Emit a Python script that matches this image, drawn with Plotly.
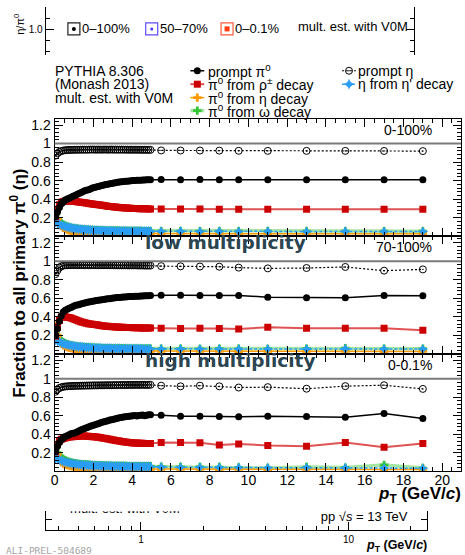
import plotly.graph_objects as go

W, H = 465, 555
SANS = "Liberation Sans, Arial, Helvetica, sans-serif"

# ---------------------------------------------------------------- data
pt_fine = [0.05, 0.15, 0.25, 0.35, 0.45, 0.55, 0.65, 0.75, 0.85, 0.95,
           1.05, 1.15, 1.25, 1.35, 1.45, 1.55, 1.65, 1.75, 1.85, 1.95,
           2.05, 2.15, 2.25, 2.35, 2.45, 2.55, 2.65, 2.75, 2.85, 2.95,
           3.05, 3.15, 3.25, 3.35, 3.45, 3.55, 3.65, 3.75, 3.85, 3.95,
           4.05, 4.15, 4.25, 4.35, 4.45, 4.55, 4.65, 4.75, 4.85, 4.95]
pt_coarse = [5.5, 6.5, 7.5, 8.5, 9.5, 11.0, 13.0, 15.0, 17.0, 19.0]

# ---- 0-100 %
mb_pi0_fine = [0.21, 0.26, 0.31, 0.35, 0.37, 0.39, 0.40, 0.41, 0.42, 0.43,
               0.44, 0.45, 0.46, 0.47, 0.48, 0.49, 0.495, 0.50, 0.51, 0.52,
               0.525, 0.53, 0.537, 0.543, 0.548, 0.553, 0.558, 0.562, 0.566, 0.57,
               0.574, 0.578, 0.581, 0.584, 0.587, 0.59, 0.592, 0.594, 0.596, 0.598,
               0.60, 0.601, 0.603, 0.604, 0.605, 0.606, 0.607, 0.608, 0.609, 0.61]
mb_pi0_coarse = [0.611, 0.610, 0.611, 0.609, 0.610, 0.609, 0.610, 0.608, 0.610, 0.609]
mb_rho_fine = [0.21, 0.29, 0.34, 0.365, 0.375, 0.38, 0.38, 0.38, 0.378, 0.376,
               0.374, 0.372, 0.369, 0.366, 0.363, 0.36, 0.357, 0.354, 0.351, 0.348,
               0.345, 0.342, 0.339, 0.336, 0.333, 0.33, 0.327, 0.324, 0.321, 0.319,
               0.316, 0.314, 0.312, 0.31, 0.308, 0.306, 0.305, 0.303, 0.302, 0.301,
               0.30, 0.299, 0.298, 0.297, 0.296, 0.296, 0.295, 0.295, 0.294, 0.294]
mb_rho_coarse = [0.293, 0.292, 0.292, 0.291, 0.291, 0.291, 0.291, 0.290, 0.291, 0.291]
mb_etadec_fine = [0.28, 0.19, 0.14, 0.108, 0.09, 0.079, 0.07, 0.064, 0.059, 0.055,
                  0.052, 0.049, 0.047, 0.045, 0.043, 0.041, 0.04, 0.038, 0.037, 0.036,
                  0.035, 0.034, 0.034, 0.033, 0.032, 0.032, 0.031, 0.031, 0.030, 0.030,
                  0.030, 0.029, 0.029, 0.029, 0.028, 0.028, 0.028, 0.028, 0.027, 0.027,
                  0.027, 0.027, 0.027, 0.026, 0.026, 0.026, 0.026, 0.026, 0.026, 0.026]
mb_etadec_coarse = [0.025, 0.025, 0.025, 0.025, 0.025, 0.024, 0.025, 0.025, 0.024, 0.025]
mb_omega_fine = [0.23, 0.19, 0.16, 0.14, 0.125, 0.113, 0.104, 0.097, 0.091, 0.087,
                 0.083, 0.080, 0.077, 0.075, 0.073, 0.071, 0.070, 0.068, 0.067, 0.066,
                 0.065, 0.064, 0.063, 0.062, 0.062, 0.061, 0.060, 0.060, 0.059, 0.059,
                 0.058, 0.058, 0.058, 0.057, 0.057, 0.057, 0.056, 0.056, 0.056, 0.056,
                 0.055, 0.055, 0.055, 0.055, 0.055, 0.054, 0.054, 0.054, 0.054, 0.054]
mb_omega_coarse = [0.054, 0.054, 0.053, 0.054, 0.053, 0.054, 0.053, 0.054, 0.053, 0.054]
mb_etap_fine = [0.15, 0.14, 0.13, 0.12, 0.112, 0.105, 0.099, 0.094, 0.089, 0.085,
                0.082, 0.079, 0.076, 0.074, 0.072, 0.070, 0.068, 0.067, 0.065, 0.064,
                0.063, 0.062, 0.061, 0.060, 0.059, 0.059, 0.058, 0.057, 0.057, 0.056,
                0.056, 0.055, 0.055, 0.055, 0.054, 0.054, 0.054, 0.053, 0.053, 0.053,
                0.053, 0.052, 0.052, 0.052, 0.052, 0.052, 0.051, 0.051, 0.051, 0.051]
mb_etap_coarse = [0.051, 0.051, 0.050, 0.051, 0.050, 0.051, 0.050, 0.051, 0.050, 0.050]
mb_eta_fine = [0.87, 0.895, 0.91, 0.92, 0.925, 0.928, 0.930, 0.931, 0.932, 0.932,
               0.933, 0.933, 0.933, 0.934, 0.934, 0.934, 0.934, 0.934, 0.935, 0.935,
               0.935, 0.934, 0.935, 0.935, 0.934, 0.935, 0.935, 0.934, 0.935, 0.935,
               0.934, 0.935, 0.934, 0.934, 0.935, 0.934, 0.934, 0.934, 0.933, 0.934,
               0.933, 0.934, 0.933, 0.933, 0.933, 0.932, 0.933, 0.932, 0.932, 0.932]
mb_eta_coarse = [0.926, 0.925, 0.925, 0.924, 0.922, 0.921, 0.921, 0.921, 0.920, 0.919]

# ---- 70-100 %  (low multiplicity)
low_pi0_fine = [0.20, 0.27, 0.35, 0.41, 0.45, 0.47, 0.48, 0.49, 0.50, 0.51,
                0.52, 0.525, 0.53, 0.537, 0.543, 0.548, 0.553, 0.558, 0.562, 0.566,
                0.57, 0.574, 0.578, 0.581, 0.584, 0.587, 0.59, 0.593, 0.595, 0.598,
                0.602, 0.604, 0.606, 0.608, 0.61, 0.612, 0.614, 0.615, 0.617, 0.618,
                0.619, 0.62, 0.621, 0.622, 0.623, 0.624, 0.625, 0.626, 0.627, 0.628]
low_pi0_coarse = [0.632, 0.632, 0.630, 0.628, 0.629, 0.611, 0.604, 0.604, 0.629, 0.625]
low_rho_fine = [0.19, 0.29, 0.36, 0.395, 0.405, 0.40, 0.395, 0.39, 0.385, 0.378,
                0.37, 0.362, 0.354, 0.346, 0.34, 0.334, 0.329, 0.325, 0.321, 0.318,
                0.315, 0.312, 0.309, 0.306, 0.303, 0.30, 0.298, 0.296, 0.294, 0.292,
                0.291, 0.29, 0.289, 0.287, 0.286, 0.285, 0.284, 0.283, 0.283, 0.282,
                0.281, 0.281, 0.28, 0.28, 0.279, 0.279, 0.278, 0.278, 0.277, 0.277]
low_rho_coarse = [0.275, 0.272, 0.275, 0.272, 0.268, 0.286, 0.276, 0.276, 0.276, 0.254]
low_etadec_fine = [0.30, 0.20, 0.145, 0.11, 0.092, 0.08, 0.071, 0.065, 0.06, 0.056,
                   0.053, 0.05, 0.048, 0.046, 0.044, 0.042, 0.041, 0.039, 0.038, 0.037,
                   0.036, 0.035, 0.035, 0.034, 0.033, 0.033, 0.032, 0.032, 0.031, 0.031,
                   0.031, 0.030, 0.030, 0.030, 0.029, 0.029, 0.029, 0.029, 0.028, 0.028,
                   0.028, 0.028, 0.028, 0.027, 0.027, 0.027, 0.027, 0.027, 0.027, 0.027]
low_etadec_coarse = [0.026, 0.025, 0.026, 0.025, 0.024, 0.025, 0.026, 0.025, 0.024, 0.025]
low_omega_fine = [0.22, 0.185, 0.158, 0.138, 0.124, 0.112, 0.103, 0.096, 0.090, 0.086,
                  0.082, 0.079, 0.076, 0.074, 0.072, 0.070, 0.069, 0.067, 0.066, 0.065,
                  0.064, 0.063, 0.062, 0.062, 0.061, 0.060, 0.060, 0.059, 0.059, 0.058,
                  0.058, 0.057, 0.057, 0.057, 0.056, 0.056, 0.056, 0.055, 0.055, 0.055,
                  0.055, 0.055, 0.054, 0.054, 0.054, 0.054, 0.054, 0.053, 0.053, 0.053]
low_omega_coarse = [0.053, 0.054, 0.052, 0.055, 0.053, 0.052, 0.054, 0.060, 0.053, 0.055]
low_etap_fine = [0.15, 0.138, 0.127, 0.118, 0.11, 0.103, 0.097, 0.092, 0.088, 0.084,
                 0.081, 0.078, 0.075, 0.073, 0.071, 0.069, 0.068, 0.066, 0.065, 0.064,
                 0.063, 0.062, 0.061, 0.060, 0.059, 0.058, 0.058, 0.057, 0.057, 0.056,
                 0.056, 0.055, 0.055, 0.055, 0.054, 0.054, 0.054, 0.053, 0.053, 0.053,
                 0.053, 0.052, 0.052, 0.052, 0.052, 0.051, 0.051, 0.051, 0.051, 0.051]
low_etap_coarse = [0.051, 0.050, 0.051, 0.050, 0.050, 0.051, 0.050, 0.052, 0.050, 0.051]
low_eta_fine = [0.86, 0.90, 0.93, 0.945, 0.952, 0.955, 0.956, 0.957, 0.957, 0.958,
                0.958, 0.958, 0.957, 0.958, 0.958, 0.957, 0.958, 0.957, 0.957, 0.958,
                0.957, 0.957, 0.956, 0.957, 0.957, 0.956, 0.957, 0.956, 0.956, 0.957,
                0.956, 0.956, 0.955, 0.956, 0.955, 0.955, 0.956, 0.955, 0.954, 0.955,
                0.954, 0.955, 0.954, 0.953, 0.954, 0.953, 0.953, 0.952, 0.953, 0.952]
low_eta_coarse = [0.946, 0.944, 0.942, 0.940, 0.930, 0.922, 0.926, 0.937, 0.897, 0.911]

# ---- 0-0.1 %  (high multiplicity)
high_pi0_fine = [0.21, 0.27, 0.31, 0.34, 0.36, 0.375, 0.385, 0.395, 0.405, 0.41,
                 0.415, 0.425, 0.435, 0.445, 0.455, 0.462, 0.47, 0.478, 0.486, 0.494,
                 0.50, 0.508, 0.515, 0.522, 0.529, 0.535, 0.541, 0.547, 0.553, 0.558,
                 0.563, 0.568, 0.573, 0.578, 0.582, 0.586, 0.59, 0.593, 0.596, 0.598,
                 0.60, 0.602, 0.598, 0.603, 0.605, 0.607, 0.60, 0.606, 0.61, 0.612]
high_pi0_coarse = [0.605, 0.595, 0.594, 0.592, 0.588, 0.595, 0.591, 0.584, 0.624, 0.57]
high_pi0_err = [0.004, 0.004, 0.005, 0.005, 0.006, 0.007, 0.009, 0.011, 0.016, 0.022]
high_rho_fine = [0.21, 0.29, 0.33, 0.345, 0.355, 0.36, 0.365, 0.37, 0.372, 0.374,
                 0.376, 0.378, 0.379, 0.38, 0.38, 0.38, 0.379, 0.378, 0.376, 0.374,
                 0.372, 0.37, 0.367, 0.364, 0.361, 0.358, 0.354, 0.35, 0.346, 0.342,
                 0.338, 0.334, 0.33, 0.326, 0.322, 0.319, 0.316, 0.313, 0.311, 0.309,
                 0.307, 0.306, 0.305, 0.304, 0.303, 0.302, 0.301, 0.30, 0.30, 0.299]
high_rho_coarse = [0.31, 0.31, 0.308, 0.283, 0.295, 0.28, 0.27, 0.31, 0.26, 0.30]
high_rho_err = [0.003, 0.003, 0.004, 0.004, 0.005, 0.006, 0.007, 0.009, 0.012, 0.016]
high_etadec_fine = [0.27, 0.18, 0.13, 0.10, 0.085, 0.075, 0.068, 0.062, 0.057, 0.053,
                    0.05, 0.047, 0.045, 0.043, 0.041, 0.039, 0.038, 0.036, 0.035, 0.034,
                    0.033, 0.032, 0.031, 0.03, 0.03, 0.029, 0.028, 0.028, 0.027, 0.027,
                    0.026, 0.026, 0.025, 0.025, 0.025, 0.024, 0.024, 0.024, 0.023, 0.023,
                    0.023, 0.023, 0.022, 0.022, 0.022, 0.022, 0.021, 0.021, 0.021, 0.021]
high_etadec_coarse = [0.02, 0.021, 0.02, 0.019, 0.02, 0.018, 0.02, 0.021, 0.019, 0.02]
high_omega_fine = [0.24, 0.2, 0.17, 0.148, 0.132, 0.12, 0.11, 0.102, 0.096, 0.091,
                   0.087, 0.083, 0.08, 0.077, 0.075, 0.073, 0.071, 0.07, 0.068, 0.067,
                   0.066, 0.065, 0.064, 0.063, 0.062, 0.062, 0.061, 0.06, 0.06, 0.059,
                   0.059, 0.058, 0.058, 0.058, 0.057, 0.057, 0.057, 0.056, 0.056, 0.056,
                   0.056, 0.055, 0.055, 0.055, 0.055, 0.055, 0.054, 0.054, 0.054, 0.054]
high_omega_coarse = [0.05, 0.048, 0.047, 0.046, 0.042, 0.035, 0.046, 0.04, 0.068, 0.035]
high_etap_fine = [0.14, 0.135, 0.125, 0.116, 0.108, 0.101, 0.095, 0.09, 0.086, 0.082,
                  0.079, 0.076, 0.073, 0.071, 0.069, 0.067, 0.066, 0.064, 0.063, 0.062,
                  0.061, 0.06, 0.059, 0.058, 0.058, 0.057, 0.056, 0.056, 0.055, 0.055,
                  0.054, 0.054, 0.054, 0.053, 0.053, 0.053, 0.052, 0.052, 0.052, 0.052,
                  0.051, 0.051, 0.051, 0.051, 0.05, 0.05, 0.05, 0.05, 0.05, 0.05]
high_etap_coarse = [0.045, 0.044, 0.043, 0.042, 0.041, 0.038, 0.04, 0.038, 0.035, 0.033]
high_eta_fine = [0.86, 0.885, 0.9, 0.908, 0.913, 0.916, 0.918, 0.92, 0.921, 0.922,
                 0.923, 0.923, 0.924, 0.924, 0.925, 0.925, 0.926, 0.926, 0.927, 0.927,
                 0.928, 0.928, 0.928, 0.929, 0.929, 0.929, 0.93, 0.93, 0.93, 0.93,
                 0.931, 0.931, 0.931, 0.932, 0.932, 0.932, 0.932, 0.933, 0.933, 0.933,
                 0.933, 0.934, 0.934, 0.933, 0.934, 0.934, 0.934, 0.933, 0.934, 0.934]
high_eta_coarse = [0.925, 0.918, 0.925, 0.918, 0.905, 0.909, 0.892, 0.92, 0.93, 0.89]

panel_labels = ["0-100%", "70-100%", "0-0.1%"]
y_tickvals = [0.2, 0.4, 0.6, 0.8, 1.0, 1.2]
y_ticktext = ["0.2", "0.4", "0.6", "0.8", "1", "1.2"]
series_order = ["omega", "etadec", "etap", "rho", "pi0", "eta"]
series_names = {
    "pi0": "prompt π<sup>0</sup>",
    "rho": "π<sup>0</sup> from ρ<sup>±</sup> decay",
    "etadec": "π<sup>0</sup> from η decay",
    "omega": "π<sup>0</sup> from ω decay",
    "eta": "prompt η",
    "etap": "η from η' decay",
}
mult_classes = ["0–100%", "50–70%", "0–0.1%"]
log_ticks = [1, 10]
log_minor = [0.4, 0.5, 0.6, 0.7, 0.8, 0.9, 2, 3, 4, 5, 6, 7, 8, 9, 20]

# ---------------------------------------------------------------- styles
STY = {
    "omega": dict(line=dict(color="rgba(90,205,90,0.55)", width=3.5),
                  marker=dict(symbol="cross", size=7, color="#33c633", line=dict(width=0))),
    "etadec": dict(line=dict(color="#ff9a00", width=1.5),
                   marker=dict(symbol="cross", size=7, color="#ff9a00", line=dict(width=0))),
    "etap": dict(line=dict(color="#2a9df4", width=1.5, dash="3px,2px"),
                 marker=dict(symbol="star-diamond", size=8, color="#2a9df4", line=dict(width=0))),
    "rho": dict(line=dict(color="rgba(215,40,40,0.8)", width=2),
                marker=dict(symbol="square", size=7, color="#cc0000", line=dict(width=0))),
    "pi0": dict(line=dict(color="black", width=1.5),
                marker=dict(symbol="circle", size=7, color="black", line=dict(width=0))),
    "eta": dict(line=dict(color="black", width=1.2, dash="2px,2px"),
                marker=dict(symbol="circle-open-dot", size=7, color="black", line=dict(width=1))),
}


def px_x(p):
    return p / W


def px_y(p):
    return 1 - p / H


def note(text, x, y, size=14, xanchor="left", yanchor="middle", **kw):
    font = kw.pop("font", dict(family=SANS, size=size, color="black"))
    return dict(text=text, x=px_x(x), y=px_y(y), xref="paper", yref="paper", xanchor=xanchor,
                yanchor=yanchor, showarrow=False, font=font, **kw)


XDOM = [px_x(51), px_x(461)]
PANEL_PX = [(117, 235), (235, 353), (353, 471)]
XRANGE = [0, 20.97]
YRANGE = [0, 1.27]

panels = [
    dict(x="x", y="y", fine={"pi0": mb_pi0_fine, "rho": mb_rho_fine, "etadec": mb_etadec_fine,
                             "omega": mb_omega_fine, "etap": mb_etap_fine, "eta": mb_eta_fine},
         coarse={"pi0": mb_pi0_coarse, "rho": mb_rho_coarse, "etadec": mb_etadec_coarse,
                 "omega": mb_omega_coarse, "etap": mb_etap_coarse, "eta": mb_eta_coarse},
         err={}),
    dict(x="x2", y="y2", fine={"pi0": low_pi0_fine, "rho": low_rho_fine, "etadec": low_etadec_fine,
                               "omega": low_omega_fine, "etap": low_etap_fine, "eta": low_eta_fine},
         coarse={"pi0": low_pi0_coarse, "rho": low_rho_coarse, "etadec": low_etadec_coarse,
                 "omega": low_omega_coarse, "etap": low_etap_coarse, "eta": low_eta_coarse},
         err={}),
    dict(x="x3", y="y3", fine={"pi0": high_pi0_fine, "rho": high_rho_fine, "etadec": high_etadec_fine,
                               "omega": high_omega_fine, "etap": high_etap_fine, "eta": high_eta_fine},
         coarse={"pi0": high_pi0_coarse, "rho": high_rho_coarse, "etadec": high_etadec_coarse,
                 "omega": high_omega_coarse, "etap": high_etap_coarse, "eta": high_eta_coarse},
         err={"pi0": high_pi0_err, "rho": high_rho_err}),
]

fig = go.Figure()

for p in panels:
    for s in series_order:
        kw = {}
        if s in p["err"]:
            kw["error_y"] = dict(type="data", array=[0.0] * len(pt_fine) + p["err"][s],
                                 color=STY[s]["marker"]["color"], thickness=1.3, width=0)
        fig.add_trace(go.Scatter(
            x=pt_fine + pt_coarse, y=p["fine"][s] + p["coarse"][s],
            mode="lines+markers", line=STY[s]["line"], marker=STY[s]["marker"],
            xaxis=p["x"], yaxis=p["y"], showlegend=False, hoverinfo="skip", **kw))

# empty trace so that the cropped eta/pi0 frame at the top is drawn
fig.add_trace(go.Scatter(x=[], y=[], xaxis="x4", yaxis="y4", showlegend=False, hoverinfo="skip"))

# ---------------------------------------------------------------- legend glyphs (overlay, pixel layout)
LEG_ROW_Y = [69, 82.5, 96, 109]
LEG_COLS = [(195, 204, ["pi0", "rho", "etadec", "omega"]), (348, 355, ["eta", "etap"])]
annotations = []
for gx, tx, keys in LEG_COLS:
    for r, s in enumerate(keys):
        gy = LEG_ROW_Y[r]
        fig.add_trace(go.Scatter(x=[gx - 7, gx + 7], y=[gy, gy], mode="lines", line=STY[s]["line"],
                                 xaxis="x6", yaxis="y6", showlegend=False, hoverinfo="skip",
                                 cliponaxis=False))
        fig.add_trace(go.Scatter(x=[gx], y=[gy], mode="markers", marker=STY[s]["marker"],
                                 xaxis="x6", yaxis="y6", showlegend=False, hoverinfo="skip",
                                 cliponaxis=False))
        annotations.append(note(series_names[s], tx, gy))

for i, t in enumerate(["PYTHIA 8.306", "(Monash 2013)", "mult. est. with V0M"]):
    annotations.append(note(t, 49, LEG_ROW_Y[i]))

# top multiplicity-class boxes
BOX_X = [70.5, 149, 225]
BOX_TX = [77, 155, 231]
BOX_Y = 27
BOX_COL = ["#222222", "#5b4dff", "#ff5a3c"]
INNER = [dict(symbol="circle", size=4, color="black"),
         dict(symbol="circle", size=3, color="#3a3aff"),
         dict(symbol="square", size=5, color="#ff3a10")]
for i, lab in enumerate(mult_classes):
    fig.add_trace(go.Scatter(x=[BOX_X[i]], y=[BOX_Y], mode="markers",
                             marker=dict(symbol="square-open", size=12, color=BOX_COL[i], line=dict(width=1.2)),
                             xaxis="x6", yaxis="y6", showlegend=False, hoverinfo="skip", cliponaxis=False))
    fig.add_trace(go.Scatter(x=[BOX_X[i]], y=[BOX_Y], mode="markers", marker=INNER[i],
                             xaxis="x6", yaxis="y6", showlegend=False, hoverinfo="skip", cliponaxis=False))
    annotations.append(note(lab, BOX_TX[i], BOX_Y, size=13))
annotations.append(note("mult. est. with V0M", 295, 25, size=13))
annotations.append(note("η/π<sup>0</sup>", 15, 22, size=11, xanchor="center", textangle=-90))

# bottom cropped panel texts (clipped by that subplot)
fig.add_trace(go.Scatter(x=[0.837], y=[1.05], mode="text", text=["mult. est. with V0M"],
                         textfont=dict(family=SANS, size=13, color="black"),
                         xaxis="x5", yaxis="y5", showlegend=False, hoverinfo="skip", cliponaxis=True))
fig.add_trace(go.Scatter(x=[11.9], y=[0.66], mode="text", text=["pp √<i>s</i> = 13 TeV"],
                         textfont=dict(family=SANS, size=13, color="black"),
                         xaxis="x5", yaxis="y5", showlegend=False, hoverinfo="skip", cliponaxis=True))

# panel labels and reference lines
shapes = []
for i, p in enumerate(panels):
    annotations.append(dict(text=panel_labels[i], x=19.55, y=1.15, xref=p["x"], yref=p["y"],
                            xanchor="right", yanchor="middle", showarrow=False,
                            font=dict(family=SANS, size=14, color="black")))
    shapes.append(dict(type="line", xref=f"{p['x']} domain", yref=p["y"], x0=0, x1=1, y0=1, y1=1,
                       line=dict(color="#7a7a7a", width=2)))

BIG = dict(family="DejaVu Sans, Verdana, sans-serif", size=18.5, color="#2b4551")
annotations.append(note("<b>low multiplicity</b>", 223.5, 241, xanchor="center", font=BIG))
annotations.append(note("<b>high multiplicity</b>", 227.5, 360, xanchor="center", font=BIG))
annotations.append(note("<b>Fraction to all primary π<sup>0</sup> (η)</b>", 14, 282, size=17,
                        xanchor="center", textangle=-90))
annotations.append(note("<b><i>p</i><sub>T</sub> (GeV/<i>c</i>)</b>", 463, 495, size=17, xanchor="right"))
annotations.append(note("<b><i>p</i><sub>T</sub> (GeV/<i>c</i>)</b>", 429, 546, size=12.5, xanchor="right"))
annotations.append(note("ALI-PREL-504689", 0, 550,
                        font=dict(family="DejaVu Sans Mono, monospace", size=9.5, color="#a5a5a5")))

# ---------------------------------------------------------------- axes
layout = dict(width=W, height=H, margin=dict(l=0, r=0, t=0, b=0),
              paper_bgcolor="white", plot_bgcolor="rgba(0,0,0,0)",
              showlegend=False, annotations=annotations, shapes=shapes,
              font=dict(family=SANS, color="black"))

for i, p in enumerate(panels):
    top, bot = PANEL_PX[i]
    xk = "xaxis" if p["x"] == "x" else "xaxis" + p["x"][1:]
    yk = "yaxis" if p["y"] == "y" else "yaxis" + p["y"][1:]
    layout[xk] = dict(domain=XDOM, range=XRANGE, anchor=p["y"], showline=True, linecolor="black",
                      linewidth=1, mirror="allticks", ticks="inside", ticklen=8, tickwidth=1,
                      tickcolor="black", tick0=0, dtick=2, showticklabels=(i == 2),
                      ticklabelstandoff=-4,
                      tickfont=dict(family=SANS, size=14, color="black"),
                      minor=dict(ticks="inside", ticklen=4, tick0=0, dtick=0.5, tickcolor="black"),
                      showgrid=False, zeroline=False)
    layout[yk] = dict(domain=[px_y(bot), px_y(top)], range=YRANGE, anchor=p["x"], showline=True,
                      linecolor="black", linewidth=1, mirror="allticks", ticks="inside", ticklen=8,
                      tickwidth=1, tickcolor="black", tickmode="array", tickvals=y_tickvals,
                      ticktext=y_ticktext, tickfont=dict(family=SANS, size=14, color="black"),
                      minor=dict(tickmode="linear", ticks="inside", ticklen=4, tick0=0, dtick=0.04,
                                 tickcolor="black"),
                      showgrid=False, zeroline=False)

# top cropped eta/pi0 panel
layout["xaxis4"] = dict(domain=[px_x(42), px_x(414)], range=[0, 1], anchor="y4", visible=False)
layout["yaxis4"] = dict(domain=[px_y(53), px_y(5)], range=[0.8864, 1.1045], anchor="x4", showline=True,
                        linecolor="black", linewidth=1, mirror="ticks", ticks="inside", ticklen=8,
                        tickcolor="black", tickmode="array", tickvals=[1.0], ticktext=["1.0"],
                        tickfont=dict(family=SANS, size=10, color="black"),
                        minor=dict(tickmode="linear", ticks="inside", ticklen=4, tick0=0, dtick=0.05,
                                   tickcolor="black"),
                        showgrid=False, zeroline=False)
# bottom cropped log panel
layout["xaxis5"] = dict(domain=[px_x(42), px_x(427)], type="log", range=[-0.4597, 1.3802], anchor="y5",
                        showline=True, linecolor="black", linewidth=1, ticks="inside", ticklen=8,
                        tickcolor="black", tickmode="array", tickvals=log_ticks,
                        ticktext=[str(v) for v in log_ticks],
                        tickfont=dict(family=SANS, size=10, color="black"),
                        minor=dict(tickmode="array", tickvals=log_minor, ticks="inside", ticklen=4,
                                   tickcolor="black"),
                        showgrid=False, zeroline=False)
layout["yaxis5"] = dict(domain=[px_y(530), px_y(511)], range=[0, 1], anchor="x5", showline=True,
                        linecolor="black", linewidth=1, mirror="ticks", ticks="inside", ticklen=6,
                        tickcolor="black", tickvals=[0.55], showticklabels=False,
                        showgrid=False, zeroline=False)
# overlay in pixel units for legend glyphs
layout["xaxis6"] = dict(domain=[0, 1], range=[0, W], anchor="y6", visible=False)
layout["yaxis6"] = dict(domain=[0, 1], range=[H, 0], anchor="x6", visible=False)

fig.update_layout(**layout)
fig.write_html("out.html")
